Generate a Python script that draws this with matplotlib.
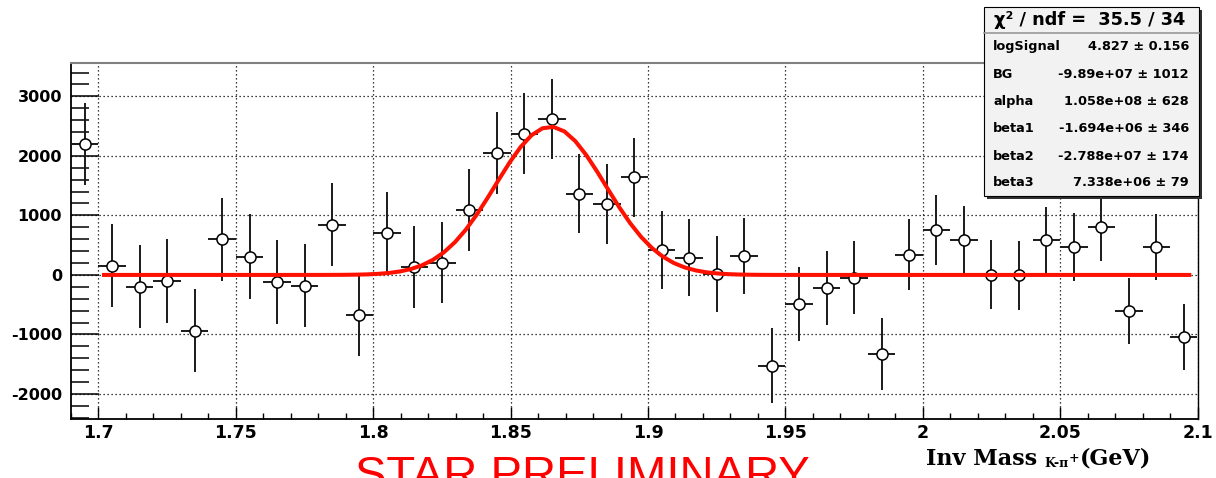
import numpy as np
import matplotlib
matplotlib.use("Agg")
import matplotlib.pyplot as plt
from matplotlib.patches import Rectangle
from matplotlib.lines import Line2D
from matplotlib.ticker import MultipleLocator, FixedLocator, FuncFormatter

W, H = 1216, 478

# histogram: 41 bins of 0.01 GeV starting at 1.69 GeV
BIN_START = 1.69
BIN_WIDTH = 0.01
counts = [2200, 157, -196, -101, -935, 600, 308, -118, -179, 846,
          -678, 711, 129, 207, 1087, 2045, 2370, 2622, 1361, 1193,
          1641, 420, 291, 11, 319, -1529, -487, -218, -45, -1328,
          341, 751, 583, 6, -6, 583, 471, 807, -600, 471, -1047]
errors = [692, 697, 696, 703, 697, 697, 708, 705, 697, 692,
          683, 690, 686, 686, 689, 691, 680, 675, 664, 667,
          661, 658, 647, 635, 638, 630, 619, 621, 613, 611,
          600, 588, 574, 582, 580, 554, 565, 566, 554, 551, 552]

# fitted gaussian
FIT_AMP = 2490.0
FIT_MEAN = 1.8645
FIT_SIGMA = 0.0200
FIT_LO, FIT_HI = 1.702, 2.097

stat_header = "χ² / ndf =  35.5 / 34"
stat_names = ["logSignal", "BG", "alpha", "beta1", "beta2", "beta3"]
stat_values = ["4.827 ± 0.156", "-9.89e+07 ± 1012", "1.058e+08 ± 628",
               "-1.694e+06 ± 346", "-2.788e+07 ± 174", "7.338e+06 ± 79"]

plt.rcParams['axes.unicode_minus'] = False


def fx(px):
    return px / W


def fy(py):
    return 1 - py / H


fig = plt.figure(figsize=(W / 100, H / 100), dpi=100)
fig.patch.set_facecolor('white')

# frame in pixels: left 71, right 1197.5, top 63, bottom 419
ax = fig.add_axes([fx(71), fy(419), (1197.5 - 71) / W, (419 - 63) / H])
ax.set_xlim(1.69, 2.10)
ax.set_ylim(-2420, 3560)

centers = BIN_START + BIN_WIDTH * (np.arange(len(counts)) + 0.5)
ax.errorbar(centers, counts, yerr=errors, xerr=BIN_WIDTH / 2, fmt='o',
            ms=8, mfc='white', mec='black', mew=1.1,
            ecolor='#1a1a1a', elinewidth=1.4, capsize=0, zorder=3)

xf = np.linspace(FIT_LO, FIT_HI, 100)
yf = FIT_AMP * np.exp(-0.5 * ((xf - FIT_MEAN) / FIT_SIGMA) ** 2)
ax.plot(xf, yf, color='#ff1100', lw=2.9, zorder=4, solid_joinstyle='round')

# ROOT-like axes
ax.xaxis.set_major_locator(MultipleLocator(0.05))
ax.xaxis.set_minor_locator(MultipleLocator(0.01))
ax.yaxis.set_major_locator(FixedLocator([-2000, -1000, 0, 1000, 2000, 3000]))
ax.yaxis.set_minor_locator(MultipleLocator(200))
ax.xaxis.set_major_formatter(FuncFormatter(lambda v, p: '%g' % round(v, 3)))
ax.yaxis.set_major_formatter(FuncFormatter(lambda v, p: '%d' % v))

ax.tick_params(axis='x', which='major', direction='in', length=8.6, width=1.0,
               pad=3.6, labelsize=12.5)
ax.tick_params(axis='x', which='minor', direction='in', length=4.3, width=1.0)
ax.tick_params(axis='y', which='major', direction='in', length=20, width=1.1,
               pad=6.5, labelsize=11.5)
ax.tick_params(axis='y', which='minor', direction='in', length=13, width=1.1)
for lab in ax.get_xticklabels() + ax.get_yticklabels():
    lab.set_fontfamily('DejaVu Sans')
    lab.set_fontweight('bold')

ax.grid(True, which='major', color='black', linestyle=(0, (1, 2.2)), linewidth=0.9)
ax.set_axisbelow(True)

ax.spines['left'].set_linewidth(1.3)
ax.spines['bottom'].set_linewidth(1.3)
ax.spines['right'].set_linewidth(1.0)
ax.spines['top'].set_color('#808080')
ax.spines['top'].set_linewidth(1.5)

# stats box
bx0, bx1, by0, by1 = 984, 1199, 7, 196
fig.patches.append(Rectangle((fx(bx0 + 3), fy(by1 + 3)), (bx1 - bx0) / W, (by1 - by0) / H,
                             transform=fig.transFigure, facecolor='#303030',
                             edgecolor='none', zorder=5))
fig.patches.append(Rectangle((fx(bx0), fy(by1)), (bx1 - bx0) / W, (by1 - by0) / H,
                             transform=fig.transFigure, facecolor='#f2f2f2',
                             edgecolor='black', linewidth=0.8, zorder=6))
fig.lines.append(Line2D([fx(bx0), fx(bx1)], [fy(33), fy(33)], transform=fig.transFigure,
                        color='#999999', linewidth=1.2, zorder=7))
fig.text(fx(1090), fy(20), stat_header, ha='center', va='center', fontsize=12.8,
         family='DejaVu Sans', weight='bold', zorder=8)
row_y = [46.7, 74.3, 101.7, 129, 156, 182.7]
for name, val, yy in zip(stat_names, stat_values, row_y):
    fig.text(fx(993), fy(yy), name, ha='left', va='center', fontsize=9.3,
             family='DejaVu Sans', weight='bold', zorder=8)
    fig.text(fx(1189), fy(yy), val, ha='right', va='center', fontsize=9.3,
             family='DejaVu Sans', weight='bold', zorder=8)

# x axis title, built piece by piece for the sub/superscript
renderer = fig.canvas.get_renderer()
pieces = [("Inv Mass ", 16, 0, 'normal'),
          ("K-π", 9, 2, 'normal'),
          ("+", 9, -3, 'normal'),
          ("(GeV)", 16, 0, 'normal')]
xcur = 926
for s, size, dy, style in pieces:
    t = fig.text(fx(xcur), fy(465 + dy), s, ha='left', va='baseline', fontsize=size,
                 family='DejaVu Serif', weight='bold', style=style)
    xcur += t.get_window_extent(renderer).width

# preliminary label, cut by the bottom edge as in the original
fig.text(fx(355), fy(489), "STAR PRELIMINARY", ha='left', va='baseline',
         fontsize=34, family='Liberation Sans', color='#ff0000')

fig.savefig('out.png', dpi=100)
